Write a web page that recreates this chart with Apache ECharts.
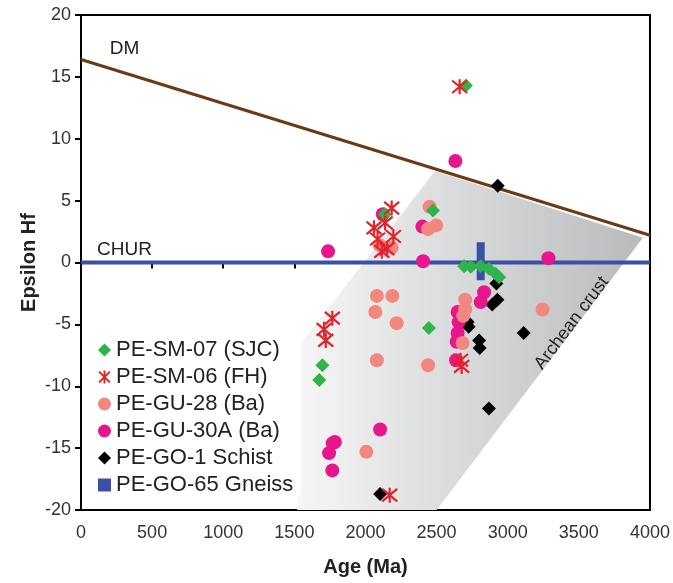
<!DOCTYPE html>
<html>
<head>
<meta charset="utf-8">
<script src="https://cdn.jsdelivr.net/npm/echarts@6/dist/echarts.min.js"></script>
<style>
  html, body { margin: 0; padding: 0; background: #fff; }
  #chart { width: 673px; height: 583px; }
</style>
</head>
<body>
<div id="chart"></div>
<script>
// Hf isotope data: [age (Ma), epsilon Hf]
const smSJC = [
  [2706, 14.3], [1697, -8.3], [1675, -9.5], [2446, -5.3], [2474, 4.2], [2136, 3.9],
  [2694, -0.3], [2741, -0.35], [2810, -0.3], [2868, -0.5], [2915, -0.9], [2940, -1.2]
];
const smFH = [
  [2662, 14.2], [2184, 4.4], [2060, 2.8], [2138, 3.2], [2085, 1.9], [2196, 2.1],
  [2115, 0.9], [2150, 1.1], [1767, -4.5], [1709, -5.4], [1721, -6.3],
  [2668, -7.9], [2676, -8.4], [2170, -18.8]
];
const gu28 = [
  [2451, 4.5], [2497, 3.0], [2440, 2.7], [2184, 1.2], [2100, 1.4],
  [2080, -2.7], [2189, -2.7], [2069, -4.0], [2219, -4.9], [2080, -7.9], [2440, -8.3],
  [3245, -3.8], [2701, -3.0], [2701, -3.8], [2688, -4.3], [2683, -6.5], [2006, -15.3]
];
const gu30A = [
  [1737, 0.9], [2632, 8.2], [2400, 2.9], [2405, 0.1], [2122, 3.9], [3286, 0.35],
  [2834, -2.4], [2810, -3.2], [2648, -4.0], [2655, -4.8], [2648, -5.7], [2641, -6.4],
  [2637, -7.9], [2103, -13.5], [1785, -14.5], [1770, -14.6], [1744, -15.4], [1767, -16.8]
];
const go1 = [
  [2930, 6.2], [2920, -1.7], [2927, -3.0], [2891, -3.4], [2718, -4.8], [2725, -5.2],
  [2799, -6.3], [2803, -6.9], [3112, -5.7], [2868, -11.8], [2103, -18.7]
];
const go65 = [[2810, 0.1]];

// reference curves
const dmLine = [[0, 16.4], [4000, 2.2]];
const churLine = [[0, 0], [4000, 0]];
// outline of the Archean crust field
const crustField = [[2490, 7.4], [3950, 2.0], [2500, -20], [1520, -20], [1520, -6.9]];

const seriesNames = ['PE-SM-07 (SJC)', 'PE-SM-06 (FH)', 'PE-GU-28 (Ba)', 'PE-GU-30A (Ba)', 'PE-GO-1 Schist', 'PE-GO-65 Gneiss'];
const asterisk = 'path://M0,0L10,10M10,0L0,10M5,-1L5,11';
const FONT = "'Liberation Sans', Arial, sans-serif";

const chart = echarts.init(document.getElementById('chart'), null, { renderer: 'canvas' });

const option = {
  backgroundColor: '#fff',
  animation: false,
  grid: { left: 81, right: 17, top: 15, bottom: 73, show: true, borderColor: '#000', borderWidth: 2, backgroundColor: 'transparent' },
  xAxis: {
    type: 'value', min: 0, max: 4000, interval: 500,
    name: 'Age (Ma)', nameLocation: 'middle', nameGap: 47,
    nameTextStyle: { fontFamily: FONT, fontSize: 20, fontWeight: 'bold', color: '#222' },
    axisLine: { lineStyle: { color: '#000', width: 2 } },
    axisTick: { inside: false, length: 6, lineStyle: { color: '#000', width: 2 } },
    axisLabel: { fontFamily: FONT, fontSize: 18, color: '#333', margin: 14, formatter: v => String(v) },
    splitLine: { show: false }
  },
  yAxis: {
    type: 'value', min: -20, max: 20, interval: 5,
    name: 'Epsilon Hf', nameLocation: 'middle', nameGap: 42, nameRotate: 90,
    nameMoveOverlap: false,
    nameTextStyle: { fontFamily: FONT, fontSize: 20, fontWeight: 'bold', color: '#222' },
    axisLine: { onZero: false, lineStyle: { color: '#000', width: 2 } },
    axisTick: { inside: false, length: 6, lineStyle: { color: '#000', width: 2 } },
    axisLabel: { fontFamily: FONT, fontSize: 18, color: '#333', margin: 10, formatter: v => String(v) },
    splitLine: { show: false }
  },
  legend: {
    data: [
      { name: seriesNames[0], icon: 'diamond' },
      { name: seriesNames[1], icon: asterisk },
      { name: seriesNames[2], icon: 'circle' },
      { name: seriesNames[3], icon: 'circle' },
      { name: seriesNames[4], icon: 'diamond' },
      { name: seriesNames[5], icon: 'rect' }
    ],
    orient: 'vertical', left: 86, top: 335,
    itemWidth: 13, itemHeight: 13, itemGap: 5,
    padding: [4, 8, 5, 12],
    backgroundColor: '#fff', borderRadius: 12,
    textStyle: { fontFamily: FONT, fontSize: 22, color: '#222' },
    selectedMode: false
  },
  series: [
    {
      type: 'custom', silent: true, z: 1,
      data: [0],
      renderItem: function (params, api) {
        const pts = crustField.map(p => api.coord(p));
        return {
          type: 'polygon',
          shape: { points: pts },
          style: {
            fill: new echarts.graphic.LinearGradient(0, 0, 1, 0, [
              { offset: 0, color: '#f6f6f6' },
              { offset: 1, color: '#b8babc' }
            ])
          }
        };
      }
    },
    {
      type: 'line', data: dmLine, symbol: 'none', silent: true, z: 2,
      lineStyle: { color: '#6b3a14', width: 3 }
    },
    {
      type: 'line', data: churLine, symbol: 'none', silent: true, z: 2,
      lineStyle: { color: '#3b4fa8', width: 4 }
    },
    {
      name: seriesNames[5], type: 'scatter', data: go65, z: 3,
      symbol: 'rect', symbolSize: [8, 38],
      itemStyle: { color: '#3b4fa8', opacity: 1 }
    },
    {
      name: seriesNames[4], type: 'scatter', data: go1, z: 4,
      symbol: 'diamond', symbolSize: 14,
      itemStyle: { color: '#000', opacity: 1 }
    },
    {
      name: seriesNames[3], type: 'scatter', data: gu30A, z: 5,
      symbol: 'circle', symbolSize: 14,
      itemStyle: { color: '#e8168c', opacity: 1 }
    },
    {
      name: seriesNames[2], type: 'scatter', data: gu28, z: 6,
      symbol: 'circle', symbolSize: 14,
      itemStyle: { color: '#f2877f', opacity: 1 }
    },
    {
      name: seriesNames[0], type: 'scatter', data: smSJC, z: 7,
      symbol: 'diamond', symbolSize: 14,
      itemStyle: { color: '#2fb44b', opacity: 1 }
    },
    {
      name: seriesNames[1], type: 'scatter', data: smFH, z: 8,
      symbol: asterisk, symbolSize: 15,
      itemStyle: { color: 'rgba(0,0,0,0)', borderColor: '#e2232b', borderWidth: 2.2, opacity: 1 }
    }
  ]
};

chart.setOption(option);

// Text annotations placed from data coordinates
function at(p) { return chart.convertToPixel({ gridIndex: 0 }, p); }
const dmPos = at([306, 17.3]);
const churPos = at([306, 1.0]);
const crustPos = at([3450, -4.9]);
chart.setOption({
  graphic: [
    { type: 'text', x: dmPos[0], y: dmPos[1], z: 20,
      style: { text: 'DM', fontFamily: FONT, fontSize: 19, fill: '#222', align: 'center', verticalAlign: 'middle' } },
    { type: 'text', x: churPos[0], y: churPos[1], z: 20,
      style: { text: 'CHUR', fontFamily: FONT, fontSize: 19, fill: '#222', align: 'center', verticalAlign: 'middle' } },
    { type: 'text', x: crustPos[0], y: crustPos[1], rotation: 53 * Math.PI / 180, z: 20,
      style: { text: 'Archean crust', fontFamily: FONT, fontSize: 18, fill: '#222', align: 'center', verticalAlign: 'middle' } }
  ]
});
</script>
</body>
</html>
